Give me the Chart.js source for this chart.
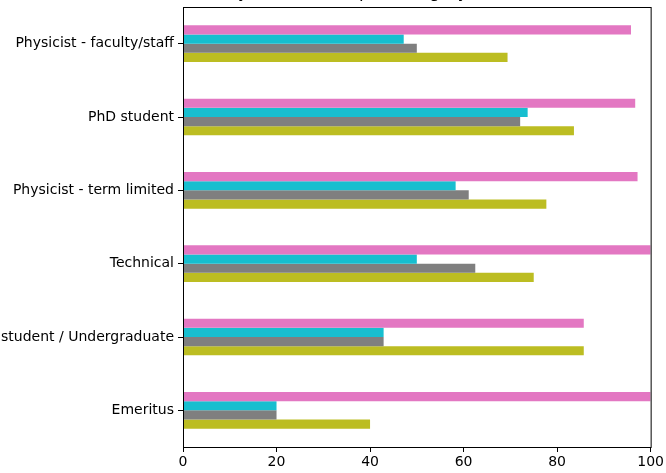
<!DOCTYPE html>
<html>
<head>
<meta charset="utf-8">
<script src="https://cdn.jsdelivr.net/npm/chart.js@4/dist/chart.umd.min.js"></script>
<style>
    html, body { margin: 0; padding: 0; background: #fff; }
    #wrap { width: 666px; height: 473px; overflow: hidden; position: relative; }
    #chart { position: absolute; left: 0; top: -20px; }
</style>
</head>
<body>
<div id="wrap"><canvas id="chart" width="666" height="493"></canvas></div>
<script>
// categories, top to bottom
const categories = [
    'Physicist - faculty/staff',
    'PhD student',
    'Physicist - term limited',
    'Technical',
    'Master student / Undergraduate',
    'Emeritus'
];

// series values [%]
const seriesPink  = [95.8, 96.7, 97.2, 100, 85.7, 100];
const seriesCyan  = [47.2, 73.7, 58.3, 50.0, 42.9, 20];
const seriesGray  = [50.0, 72.1, 61.1, 62.5, 42.9, 20];
const seriesOlive = [69.4, 83.6, 77.7, 75.0, 85.7, 40];

const xTicks = [0, 20, 40, 60, 80, 100];
const titleText = 'Answers by career level per category [%]';

const fontFamily = "'DejaVu Sans', sans-serif";

// matplotlib style box around the plot
const frameBox = {
    id: 'frameBox',
    afterDraw: (chart) => {
        const { ctx, chartArea } = chart;
        ctx.save();
        ctx.strokeStyle = '#000';
        ctx.lineWidth = 1;
        ctx.strokeRect(chartArea.left + 0.5, chartArea.top + 0.5, chartArea.right - chartArea.left, chartArea.bottom - chartArea.top);
        ctx.restore();
    }
};

const ctx = document.getElementById('chart').getContext('2d');
new Chart(ctx, {
    type: 'bar',
    data: {
        labels: categories,
        datasets: [
            { label: 'A', data: seriesPink, backgroundColor: '#e377c2' },
            { label: 'B', data: seriesCyan, backgroundColor: '#17becf' },
            { label: 'C', data: seriesGray, backgroundColor: '#7f7f7f' },
            { label: 'D', data: seriesOlive, backgroundColor: '#bcbd22' }
        ]
    },
    options: {
        indexAxis: 'y',
        responsive: false,
        animation: false,
        categoryPercentage: 0.5,
        barPercentage: 1.0,
        layout: { padding: { left: 0, right: 13, top: 0, bottom: 0 } },
        plugins: {
            legend: { display: false },
            tooltip: { enabled: false },
            title: {
                display: true,
                text: titleText,
                color: '#000',
                font: { family: fontFamily, size: 17, weight: 'normal' },
                padding: { top: 2.6, bottom: 4 }
            }
        },
        scales: {
            x: {
                min: 0,
                max: 100,
                afterBuildTicks: (scale) => { scale.ticks = xTicks.map(v => ({ value: v })); },
                afterFit: (scale) => { scale.height = 26; },
                grid: { display: true, drawOnChartArea: false, drawTicks: true, tickLength: 5, color: '#000' },
                border: { display: true, color: '#000' },
                ticks: { color: '#000', padding: 2, font: { family: fontFamily, size: 14 } }
            },
            y: {
                afterFit: (scale) => { scale.width = 183; },
                grid: { display: true, drawOnChartArea: false, drawTicks: true, tickLength: 5, color: '#000', offset: false },
                border: { display: true, color: '#000' },
                ticks: { color: '#000', padding: 4, font: { family: fontFamily, size: 14 } }
            }
        }
    },
    plugins: [frameBox]
});
</script>
</body>
</html>
